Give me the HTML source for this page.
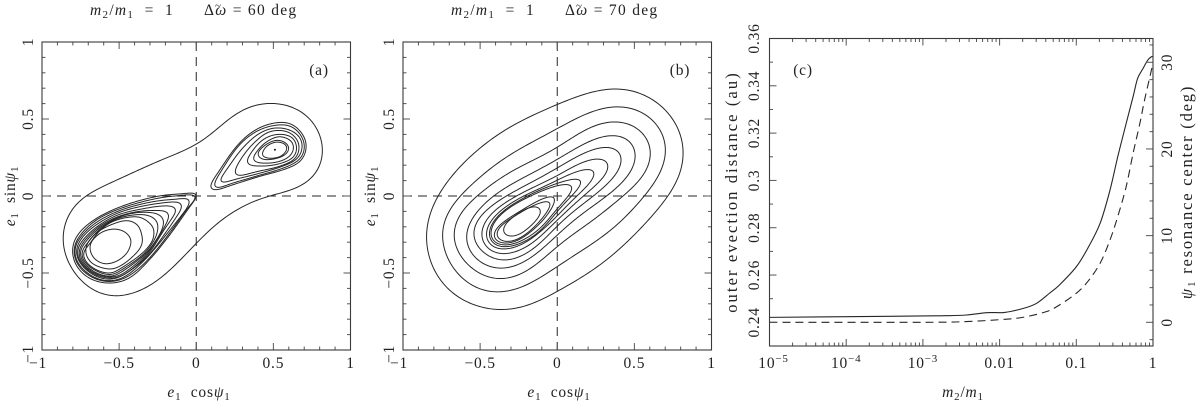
<!DOCTYPE html>
<html lang="en">
<head>
<meta charset="utf-8">
<title>Evection resonance phase portraits</title>
<style>
html,body{margin:0;padding:0;background:#fff;width:1200px;height:405px;overflow:hidden}
svg{display:block}
text{font-family:"Liberation Serif",serif;fill:#222;font-size:15.5px;letter-spacing:.8px;white-space:pre}
.it{font-style:italic}
.sub{font-size:11px}
.title{letter-spacing:1.3px}
.long{font-size:16.5px;letter-spacing:2.1px}
.long-r{font-size:16.5px;letter-spacing:1.8px}
.tilde{font-size:11px;letter-spacing:0}
</style>
</head>
<body>
<svg id="fig" xmlns="http://www.w3.org/2000/svg" width="1200" height="405" viewBox="0 0 1200 405">
  <rect x="0" y="0" width="1200" height="405" fill="#fff"/>

  <g id="panelA"></g>
  <g id="panelB"></g>
  <g id="panelC"></g>

  <text class="title" x="90" y="15"><tspan class="it">m</tspan><tspan class="sub" dy="3">2</tspan><tspan dy="-3">/</tspan><tspan class="it">m</tspan><tspan class="sub" dy="3">1</tspan><tspan dy="-3">  =  1</tspan></text>
  <text class="title" x="204" y="15">Δ<tspan class="it">ω</tspan> = 60 deg</text>
  <text class="tilde" x="218" y="9" text-anchor="middle">~</text>
  <text class="title" x="451" y="15"><tspan class="it">m</tspan><tspan class="sub" dy="3">2</tspan><tspan dy="-3">/</tspan><tspan class="it">m</tspan><tspan class="sub" dy="3">1</tspan><tspan dy="-3">  =  1</tspan></text>
  <text class="title" x="565" y="15">Δ<tspan class="it">ω</tspan> = 70 deg</text>
  <text class="tilde" x="579" y="9" text-anchor="middle">~</text>

  <text x="319" y="75" text-anchor="middle">(a)</text>
  <text x="680" y="75" text-anchor="middle">(b)</text>
  <text x="803" y="75" text-anchor="middle">(c)</text>

  <text x="199" y="397" text-anchor="middle"><tspan class="it">e</tspan><tspan class="sub" dy="3">1</tspan><tspan dy="-3">  cos</tspan><tspan class="it">ψ</tspan><tspan class="sub" dy="3">1</tspan></text>
  <text x="559" y="397" text-anchor="middle"><tspan class="it">e</tspan><tspan class="sub" dy="3">1</tspan><tspan dy="-3">  cos</tspan><tspan class="it">ψ</tspan><tspan class="sub" dy="3">1</tspan></text>
  <text x="963" y="397" text-anchor="middle"><tspan class="it">m</tspan><tspan class="sub" dy="3">2</tspan><tspan dy="-3">/</tspan><tspan class="it">m</tspan><tspan class="sub" dy="3">1</tspan></text>

  <text transform="translate(15,196) rotate(-90)" text-anchor="middle"><tspan class="it">e</tspan><tspan class="sub" dy="3">1</tspan><tspan dy="-3">  sin</tspan><tspan class="it">ψ</tspan><tspan class="sub" dy="3">1</tspan></text>
  <text transform="translate(375,196) rotate(-90)" text-anchor="middle"><tspan class="it">e</tspan><tspan class="sub" dy="3">1</tspan><tspan dy="-3">  sin</tspan><tspan class="it">ψ</tspan><tspan class="sub" dy="3">1</tspan></text>
  <text class="long" transform="translate(737,192) rotate(-90)" text-anchor="middle">outer evection distance (au)</text>
  <text class="long-r" transform="translate(1192,192) rotate(-90)" text-anchor="middle"><tspan class="it">ψ</tspan><tspan class="sub" dy="3">1</tspan><tspan dy="-3"> resonance center (deg)</tspan></text>
</svg>

<script>
/* ---------- panel (a) contour data: [e1 cos psi1, e1 sin psi1] ---------- */
const contourAOuter = [[.52,.60],[.68,.55],[.78,.44],[.82,.30],[.78,.15],[.65,.05],[.46,0],[.28,-.08],[.11,-.20],[-.06,-.37],[-.24,-.54],[-.41,-.63],[-.54,-.65],[-.67,-.61],[-.80,-.48],[-.86,-.33],[-.85,-.18],[-.76,-.03],[-.60,.06],[-.37,.17],[-.17,.26],[0,.33],[.13,.43],[.28,.55],[.39,.59]];
const contourAR1 = [[.089,.058],[.154,.171],[.262,.323],[.37,.42],[.489,.47],[.608,.47],[.69,.398],[.712,.312],[.673,.225],[.565,.171],[.413,.128],[.24,.074],[.132,.041]];
const contourAR2 = [[.115,.07],[.17,.175],[.27,.32],[.375,.41],[.49,.455],[.605,.455],[.68,.39],[.70,.31],[.665,.235],[.56,.18],[.41,.135],[.24,.085],[.145,.055]];
const contourAR3 = [[.155,.10],[.21,.19],[.30,.31],[.40,.40],[.50,.44],[.60,.43],[.67,.38],[.685,.31],[.65,.24],[.55,.19],[.40,.145],[.26,.11],[.18,.09]];
const contourAR4 = [[.25,.15],[.29,.24],[.37,.34],[.47,.415],[.58,.42],[.65,.37],[.665,.30],[.63,.235],[.53,.19],[.40,.16],[.29,.135]];
const contourAR5 = [[.33,.215],[.37,.30],[.44,.37],[.53,.40],[.62,.38],[.65,.31],[.62,.245],[.52,.205],[.41,.195]];
const contourAR6 = [[.37,.24],[.41,.31],[.47,.36],[.54,.385],[.61,.36],[.63,.31],[.60,.255],[.52,.22],[.42,.215]];
const contourAR7 = [[.40,.275],[.44,.325],[.51,.36],[.57,.35],[.60,.31],[.57,.265],[.50,.24],[.43,.24]];
const contourAR8 = [[.43,.28],[.46,.325],[.52,.35],[.575,.335],[.585,.30],[.55,.26],[.49,.245],[.44,.255]];
const contourAL1 = [[.01,.015],[-.06,.015],[-.24,0],[-.45,-.055],[-.63,-.135],[-.75,-.23],[-.80,-.33],[-.78,-.445],[-.69,-.535],[-.56,-.565],[-.43,-.53],[-.30,-.41],[-.17,-.25],[-.04,-.065]];
const contourAL2 = [[.005,0],[-.07,.005],[-.25,-.015],[-.46,-.07],[-.63,-.145],[-.74,-.24],[-.79,-.335],[-.77,-.44],[-.68,-.525],[-.56,-.555],[-.44,-.52],[-.31,-.41],[-.18,-.25],[-.05,-.07]];
const contourAL3 = [[-.04,-.02],[-.10,-.02],[-.27,-.035],[-.47,-.085],[-.63,-.16],[-.735,-.25],[-.785,-.34],[-.765,-.435],[-.675,-.52],[-.56,-.55],[-.45,-.515],[-.32,-.40],[-.19,-.245],[-.07,-.09]];
const contourAL4 = [[-.09,-.055],[-.14,-.04],[-.29,-.055],[-.48,-.10],[-.63,-.175],[-.73,-.26],[-.775,-.345],[-.755,-.43],[-.67,-.51],[-.56,-.54],[-.46,-.505],[-.315,-.39],[-.20,-.24],[-.12,-.12]];
const contourAL5 = [[-.13,-.08],[-.20,-.065],[-.33,-.08],[-.50,-.12],[-.63,-.19],[-.72,-.27],[-.768,-.35],[-.748,-.43],[-.665,-.505],[-.56,-.532],[-.46,-.505],[-.315,-.38],[-.215,-.23],[-.15,-.13]];
const contourAL6 = [[-.18,-.11],[-.25,-.095],[-.37,-.10],[-.51,-.135],[-.63,-.20],[-.715,-.28],[-.758,-.355],[-.74,-.43],[-.66,-.50],[-.56,-.525],[-.47,-.50],[-.325,-.38],[-.235,-.25],[-.19,-.165]];
const contourAL7 = [[-.22,-.14],[-.28,-.11],[-.40,-.11],[-.52,-.145],[-.63,-.21],[-.71,-.29],[-.75,-.36],[-.73,-.43],[-.655,-.495],[-.56,-.52],[-.48,-.49],[-.335,-.38],[-.25,-.27],[-.215,-.19]];
const contourAL8 = [[-.26,-.16],[-.32,-.125],[-.42,-.125],[-.53,-.155],[-.63,-.22],[-.70,-.30],[-.74,-.365],[-.72,-.43],[-.65,-.485],[-.56,-.51],[-.485,-.48],[-.345,-.38],[-.27,-.28],[-.25,-.21]];
const contourAL9 = [[-.29,-.19],[-.36,-.14],[-.45,-.14],[-.55,-.17],[-.63,-.23],[-.69,-.31],[-.73,-.37],[-.71,-.43],[-.645,-.48],[-.56,-.50],[-.49,-.47],[-.36,-.38],[-.29,-.30],[-.275,-.235]];
const contourAL10 = [[-.355,-.25],[-.38,-.19],[-.45,-.16],[-.55,-.186],[-.64,-.235],[-.70,-.30],[-.715,-.37],[-.67,-.44],[-.56,-.474],[-.47,-.44],[-.38,-.36],[-.35,-.30]];
const contourAL11 = [[-.43,-.27],[-.47,-.23],[-.54,-.215],[-.62,-.24],[-.68,-.30],[-.685,-.36],[-.65,-.415],[-.585,-.44],[-.51,-.42],[-.45,-.37],[-.425,-.31]];
const fixedPointA = [.51,.30];
const panelAContours = [contourAOuter,contourAR1,contourAR2,contourAR3,contourAR4,contourAR5,contourAR6,contourAR7,contourAR8,contourAL1,contourAL2,contourAL3,contourAL4,contourAL5,contourAL6,contourAL7,contourAL8,contourAL9,contourAL10,contourAL11];

/* ---------- panel (b) contour data ---------- */
const contourB1 = [[.363,.70],[.52,.675],[.68,.58],[.79,.43],[.82,.27],[.79,.12],[.713,0],[.52,-.23],[.25,-.47],[0,-.61],[-.18,-.71],[-.363,-.74],[-.58,-.69],[-.76,-.55],[-.85,-.30],[-.83,-.13],[-.77,0],[-.63,.19],[-.37,.41],[-.14,.53],[0,.59],[.18,.66]];
const contourB2 = [[.417,.584],[.56,.54],[.67,.43],[.713,.29],[.64,.10],[.553,0],[.40,-.18],[.18,-.34],[0,-.45],[-.18,-.57],[-.406,-.63],[-.60,-.55],[-.72,-.38],[-.75,-.22],[-.71,-.10],[-.62,0],[-.42,.19],[-.20,.33],[0,.43],[.20,.54]];
const contourB3 = [[.395,.487],[.52,.44],[.60,.35],[.611,.27],[.56,.13],[.417,0],[.27,-.13],[.10,-.25],[0,-.32],[-.17,-.47],[-.373,-.545],[-.55,-.47],[-.66,-.33],[-.676,-.23],[-.62,-.10],[-.51,0],[-.35,.13],[-.18,.22],[0,.31],[.20,.44]];
const contourB4 = [[.406,.403],[.48,.36],[.52,.27],[.49,.17],[.32,0],[.15,-.12],[0,-.25],[-.17,-.40],[-.373,-.48],[-.52,-.41],[-.60,-.30],[-.58,-.19],[-.50,-.09],[-.417,0],[-.26,.095],[0,.234],[.22,.36]];
const contourB5 = [[.34,.327],[.41,.30],[.432,.24],[.39,.15],[.233,0],[.09,-.11],[-.02,-.21],[-.15,-.34],[-.35,-.426],[-.48,-.36],[-.557,-.26],[-.52,-.16],[-.44,-.08],[-.33,0],[-.18,.08],[0,.18],[.18,.28]];
const contourB6 = [[.308,.251],[.345,.22],[.33,.15],[.165,0],[.05,-.11],[-.05,-.20],[-.18,-.32],[-.373,-.383],[-.46,-.33],[-.503,-.26],[-.47,-.17],[-.38,-.075],[-.26,0],[-.13,.07],[0,.126],[.15,.215]];
const contourB7 = [[.233,.186],[.26,.165],[.23,.10],[.11,-.01],[0,-.13],[-.10,-.22],[-.22,-.31],[-.373,-.35],[-.45,-.31],[-.47,-.25],[-.43,-.16],[-.33,-.07],[-.20,.01],[-.08,.06],[.08,.14]];
const contourB8 = [[.157,.119],[.174,.104],[.13,.04],[.04,-.05],[-.05,-.16],[-.14,-.25],[-.25,-.31],[-.373,-.333],[-.43,-.30],[-.449,-.25],[-.41,-.16],[-.31,-.07],[-.19,0],[-.06,.06],[.05,.095]];
const contourB9 = [[.09,.08],[.115,.065],[.07,0],[-.01,-.09],[-.09,-.19],[-.18,-.26],[-.27,-.305],[-.373,-.32],[-.42,-.29],[-.438,-.25],[-.40,-.16],[-.30,-.07],[-.19,-.01],[-.08,.04],[.02,.07]];
const contourB10 = [[0,0],[-.04,0],[-.12,-.03],[-.24,-.10],[-.36,-.18],[-.425,-.245],[-.40,-.295],[-.33,-.31],[-.24,-.28],[-.15,-.21],[-.07,-.13]];
const contourB11 = [[-.03,-.03],[-.09,-.04],[-.17,-.07],[-.28,-.135],[-.37,-.20],[-.405,-.24],[-.38,-.285],[-.32,-.30],[-.24,-.27],[-.16,-.21],[-.08,-.12]];
const contourB12 = [[-.10,-.085],[-.146,-.065],[-.22,-.095],[-.30,-.15],[-.345,-.195],[-.356,-.235],[-.31,-.264],[-.24,-.245],[-.16,-.18],[-.11,-.12]];
const panelBContours = [contourB1,contourB2,contourB3,contourB4,contourB5,contourB6,contourB7,contourB8,contourB9,contourB10,contourB11,contourB12];

/* ---------- phase-portrait axis ticks ---------- */
const phaseMajorTicks = [-1,-.5,0,.5,1];
const phaseMajorLabels = ['−1','−0.5','0','0.5','1'];
const phaseMinorTicks = [-.9,-.8,-.7,-.6,-.4,-.3,-.2,-.1,.1,.2,.3,.4,.6,.7,.8,.9];

/* ---------- panel (c) series ---------- */
const distanceMassRatio = [1e-5,1e-4,1e-3,.00195,.0037,.0068,.0117,.0204,.0302,.0447,.0603,.1,.141,.204,.275,.347,.447,.55,.63,.741,.851,.955,1];
const distanceAu = [.2421,.2424,.2427,.2428,.2431,.2441,.2442,.2459,.248,.2523,.2558,.2635,.2713,.2818,.2959,.31,.3241,.3354,.3431,.3473,.3508,.3523,.3523];
const centerMassRatio = [1e-5,1e-3,.0037,.0117,.0204,.0407,.0603,.1,.141,.204,.275,.347,.447,.55,.676,.776,.912,1];
const centerDeg = [0,0,.08,.35,.58,1.23,2,3.35,4.7,6.8,9.5,12.2,15.65,19.5,23,25.65,28.35,29.9];

const auMajorTicks = [.24,.26,.28,.3,.32,.34,.36];
const auMajorLabels = ['0.24','0.26','0.28','0.3','0.32','0.34','0.36'];
const auMinorTicks = [.23,.25,.27,.29,.31,.33,.35];
const degMajorTicks = [0,10,20,30];
const degMajorLabels = ['0','10','20','30'];
const degMinorTicks = [-2,2,4,6,8,12,14,16,18,22,24,26,28,32];
const logMajorTicks = [1e-5,1e-4,1e-3,.01,.1,1];
const logMajorPlain = ['','','','0.01','0.1','1'];
const logMajorExp = ['−5','−4','−3','','',''];
const logMinorFactors = [2,3,4,5,6,7,8,9];

const NS = 'http://www.w3.org/2000/svg';
const INK = '#262626';
const FRAME = '#3a3a3a';

function tickLine(parent, x1, y1, x2, y2) {
  const l = document.createElementNS(NS, 'line');
  
  
  l.setAttribute('x1', x1);
  l.setAttribute('y1', y1);
  l.setAttribute('x2', x2);
  l.setAttribute('y2', y2);
  l.setAttribute('stroke', '#555');
  l.setAttribute('stroke-width', '1');
  parent.appendChild(l);
}
function frameRect(parent, x0, x1, y0, y1) {
  const r = document.createElementNS(NS, 'rect');
  
  
  r.setAttribute('x', x0);
  r.setAttribute('y', y0);
  r.setAttribute('width', x1 - x0);
  r.setAttribute('height', y1 - y0);
  r.setAttribute('fill', 'none');
  r.setAttribute('stroke', FRAME);
  r.setAttribute('stroke-width', '1.1');
  parent.appendChild(r);
}
function tickText(parent, x, y, str, rotated) {
  const t = document.createElementNS(NS, 'text');
  
  
  t.setAttribute('text-anchor', 'middle');
  if (rotated) t.setAttribute('transform', 'translate(' + x + ',' + y + ') rotate(-90)');
  else { t.setAttribute('x', x); t.setAttribute('y', y); }
  t.textContent = str;
  parent.appendChild(t);
  return t;
}

/* Closed spline through read points, resampled by arc length and low-passed
   so small reading errors do not show up as lumps. */
function smoothClosedPath(pts, sigmaFactor) {
  const n = pts.length, dense = [];
  for (let i = 0; i < n; i++) {
    const p0 = pts[(i - 1 + n) % n], p1 = pts[i], p2 = pts[(i + 1) % n], p3 = pts[(i + 2) % n];
    for (let k = 0; k < 16; k++) {
      const t = k / 16, t2 = t * t, t3 = t2 * t;
      dense.push([
        .5 * (2 * p1[0] + (p2[0] - p0[0]) * t + (2 * p0[0] - 5 * p1[0] + 4 * p2[0] - p3[0]) * t2 + (3 * p1[0] - p0[0] - 3 * p2[0] + p3[0]) * t3),
        .5 * (2 * p1[1] + (p2[1] - p0[1]) * t + (2 * p0[1] - 5 * p1[1] + 4 * p2[1] - p3[1]) * t2 + (3 * p1[1] - p0[1] - 3 * p2[1] + p3[1]) * t3)
      ]);
    }
  }
  const m = dense.length, cum = [0];
  for (let i = 1; i <= m; i++) {
    const a = dense[i - 1], b = dense[i % m];
    cum.push(cum[i - 1] + Math.hypot(b[0] - a[0], b[1] - a[1]));
  }
  const perim = cum[m], N = 300, res = [];
  let j = 0;
  for (let i = 0; i < N; i++) {
    const s = perim * i / N;
    while (cum[j + 1] < s) j++;
    const f = (s - cum[j]) / Math.max(cum[j + 1] - cum[j], 1e-9), a = dense[j], b = dense[(j + 1) % m];
    res.push([a[0] + (b[0] - a[0]) * f, a[1] + (b[1] - a[1]) * f]);
  }
  const sigma = Math.max(sigmaFactor * perim / n / (perim / N), .5), rad = Math.ceil(3 * sigma), ker = [];
  let tot = 0;
  for (let k = -rad; k <= rad; k++) { const w = Math.exp(-k * k / (2 * sigma * sigma)); ker.push(w); tot += w; }
  const blur = arr => arr.map((_, i) => {
    let x = 0, y = 0;
    for (let k = -rad; k <= rad; k++) {
      const q = arr[((i + k) % N + N) % N], w = ker[k + rad] / tot;
      x += q[0] * w; y += q[1] * w;
    }
    return [x, y];
  });
  const s1 = blur(res);
  const s2 = blur(res.map((q, i) => [q[0] - s1[i][0], q[1] - s1[i][1]]));
  const out = s1.map((q, i) => [q[0] + s2[i][0], q[1] + s2[i][1]]);
  return 'M' + out.map(q => q[0].toFixed(2) + ' ' + q[1].toFixed(2)).join('L') + 'Z';
}
function smoothOpen(pts) {
  const n = pts.length;
  let d = 'M' + pts[0][0].toFixed(2) + ' ' + pts[0][1].toFixed(2);
  for (let i = 0; i < n - 1; i++) {
    const p0 = pts[Math.max(i - 1, 0)], p1 = pts[i], p2 = pts[i + 1], p3 = pts[Math.min(i + 2, n - 1)];
    const c1x = p1[0] + (p2[0] - p0[0]) / 6, c1y = p1[1] + (p2[1] - p0[1]) / 6;
    const c2x = p2[0] - (p3[0] - p1[0]) / 6, c2y = p2[1] - (p3[1] - p1[1]) / 6;
    d += 'C' + c1x.toFixed(2) + ' ' + c1y.toFixed(2) + ' ' + c2x.toFixed(2) + ' ' + c2y.toFixed(2) + ' ' + p2[0].toFixed(2) + ' ' + p2[1].toFixed(2);
  }
  return d;
}

function drawPhasePanel(parent, x0, x1, y0, y1, labelX, contours, fixedPoint, sigmaOuter, sigmaInner) {
  const sx = v => x0 + (v + 1) / 2 * (x1 - x0);
  const sy = v => y1 - (v + 1) / 2 * (y1 - y0);

  contours.forEach((c, idx) => {
    const p = document.createElementNS(NS, 'path');
    
    
    p.setAttribute('d', smoothClosedPath(c.map(q => [sx(q[0]), sy(q[1])]), idx === 0 ? sigmaOuter : sigmaInner));
    p.setAttribute('fill', 'none');
    p.setAttribute('stroke', INK);
    p.setAttribute('stroke-width', '1');
    parent.appendChild(p);
  });

  if (fixedPoint) {
    const dot = document.createElementNS(NS, 'circle');
    
    
    dot.setAttribute('cx', sx(fixedPoint[0]));
    dot.setAttribute('cy', sy(fixedPoint[1]));
    dot.setAttribute('r', '1');
    dot.setAttribute('fill', '#111');
    parent.appendChild(dot);
  }

  const h = document.createElementNS(NS, 'line');
  
  
  h.setAttribute('x1', x0);
  h.setAttribute('x2', x1);
  h.setAttribute('y1', sy(0));
  h.setAttribute('y2', sy(0));
  h.setAttribute('stroke', INK);
  h.setAttribute('stroke-dasharray', '9 6');
  parent.appendChild(h);

  const v = document.createElementNS(NS, 'line');
  
  
  v.setAttribute('y1', y0);
  v.setAttribute('y2', y1);
  v.setAttribute('x1', sx(0));
  v.setAttribute('x2', sx(0));
  v.setAttribute('stroke', INK);
  v.setAttribute('stroke-dasharray', '9 6');
  parent.appendChild(v);

  phaseMinorTicks.forEach(t => {
    tickLine(parent, sx(t), y1, sx(t), y1 - 3.5);
    tickLine(parent, sx(t), y0, sx(t), y0 + 3.5);
    tickLine(parent, x0, sy(t), x0 + 3.5, sy(t));
    tickLine(parent, x1, sy(t), x1 - 3.5, sy(t));
  });
  phaseMajorTicks.forEach((t, i) => {
    tickLine(parent, sx(t), y1, sx(t), y1 - 7);
    tickLine(parent, sx(t), y0, sx(t), y0 + 7);
    tickLine(parent, x0, sy(t), x0 + 7, sy(t));
    tickLine(parent, x1, sy(t), x1 - 7, sy(t));
    tickText(parent, sx(t) - (i === 0 ? 4 : 0), 368, phaseMajorLabels[i], false);
    tickText(parent, labelX, sy(t) + (i === 0 ? 4 : 0), phaseMajorLabels[i], true);
  });
  frameRect(parent, x0, x1, y0, y1);
}

drawPhasePanel(document.getElementById('panelA'), 42, 350.5, 42, 350, 33, panelAContours, fixedPointA, .7, .3);
drawPhasePanel(document.getElementById('panelB'), 403, 711.5, 42, 350, 394, panelBContours, null, .8, .8);

/* ---------- panel (c) ---------- */
(function () {
  const g = document.getElementById('panelC');
  const x0 = 769.5, x1 = 1153, y0 = 38.5, y1 = 346;
  const xLog = m => x0 + (Math.log10(m) + 5) / 5 * (x1 - x0);
  const yAu = v => y0 + (.36 - v) / .13 * (y1 - y0);
  const yDeg = v => 322.3 - v * 8.667;

  const solid = document.createElementNS(NS, 'path');
  
  
  solid.setAttribute('d', smoothOpen(distanceMassRatio.map((m, i) => [xLog(m), yAu(distanceAu[i])])));
  solid.setAttribute('fill', 'none');
  solid.setAttribute('stroke', INK);
  solid.setAttribute('stroke-width', '1.1');
  g.appendChild(solid);

  const dashed = document.createElementNS(NS, 'path');
  
  
  dashed.setAttribute('d', smoothOpen(centerMassRatio.map((m, i) => [xLog(m), yDeg(centerDeg[i])])));
  dashed.setAttribute('fill', 'none');
  dashed.setAttribute('stroke', INK);
  dashed.setAttribute('stroke-width', '1.1');
  dashed.setAttribute('stroke-dasharray', '8 5');
  g.appendChild(dashed);

  logMajorTicks.forEach((m, i) => {
    tickLine(g, xLog(m), y1, xLog(m), y1 - 7);
    tickLine(g, xLog(m), y0, xLog(m), y0 + 7);
    if (logMajorExp[i]) {
      const t = tickText(g, xLog(m) + (i === 0 ? 4 : 0), 368, '10', false);
      const s = document.createElementNS(NS, 'tspan');
      
      
      s.setAttribute('class', 'sub');
      s.setAttribute('dy', '-6');
      s.textContent = logMajorExp[i];
      t.appendChild(s);
    } else {
      tickText(g, xLog(m), 368, logMajorPlain[i], false);
    }
    if (m < 1) {
      logMinorFactors.forEach(f => {
        tickLine(g, xLog(m * f), y1, xLog(m * f), y1 - 3.5);
        tickLine(g, xLog(m * f), y0, xLog(m * f), y0 + 3.5);
      });
    }
  });

  auMajorTicks.forEach((v, i) => {
    tickLine(g, x0, yAu(v), x0 + 7, yAu(v));
    tickText(g, 759, yAu(v), auMajorLabels[i], true);
  });
  auMinorTicks.forEach(v => tickLine(g, x0, yAu(v), x0 + 3.5, yAu(v)));

  degMajorTicks.forEach((v, i) => {
    tickLine(g, x1, yDeg(v), x1 - 7, yDeg(v));
    tickText(g, 1172, yDeg(v), degMajorLabels[i], true);
  });
  degMinorTicks.forEach(v => tickLine(g, x1, yDeg(v), x1 - 3.5, yDeg(v)));

  frameRect(g, x0, x1, y0, y1);
})();
</script>
</body>
</html>
